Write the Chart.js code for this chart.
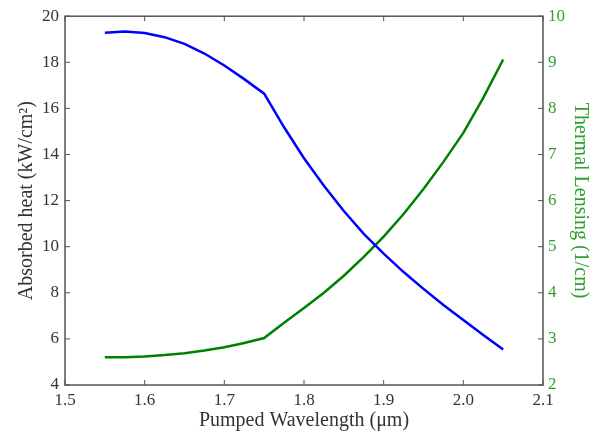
<!DOCTYPE html>
<html>
<head>
<meta charset="utf-8">
<script src="https://cdn.jsdelivr.net/npm/chart.js@4"></script>
<style>
  html, body { margin: 0; padding: 0; background: #fff; }
  #wrap { width: 597px; height: 436px; }
</style>
</head>
<body>
<div id="wrap"><canvas id="chart"></canvas></div>
<script>
// values
const wavelength = [1.55, 1.575, 1.6, 1.625, 1.65, 1.675, 1.7, 1.725, 1.75, 1.775, 1.8,
  1.825, 1.85, 1.875, 1.9, 1.925, 1.95, 1.975, 2.0, 2.025, 2.05];
const absorbedHeat = [19.28, 19.34, 19.27, 19.09, 18.8, 18.38, 17.86, 17.27, 16.64, 15.18, 13.84,
  12.64, 11.55, 10.56, 9.7, 8.9, 8.17, 7.47, 6.82, 6.17, 5.54];
const thermalLensing = [2.6, 2.6, 2.62, 2.65, 2.69, 2.75, 2.82, 2.91, 3.02, 3.35, 3.67,
  4.0, 4.37, 4.78, 5.22, 5.71, 6.25, 6.84, 7.47, 8.23, 9.06];

const xTicks = [1.5, 1.6, 1.7, 1.8, 1.9, 2.0, 2.1];
const leftTicks = [4, 6, 8, 10, 12, 14, 16, 18, 20];
const rightTicks = [2, 3, 4, 5, 6, 7, 8, 9, 10];

const serif = "'Liberation Serif', 'DejaVu Serif', serif";
const axisColor = "#555";
const labelGreen = "#2f9f2f";

// matplotlib style frame with ticks pointing inwards
const frame = {
  id: "frame",
  afterDraw(chart) {
    const { ctx, chartArea: a, scales } = chart;
    const len = 5;
    ctx.save();
    ctx.strokeStyle = axisColor;
    ctx.lineWidth = 1;
    ctx.beginPath();
    xTicks.forEach((t) => {
      const px = scales.x.getPixelForValue(t);
      ctx.moveTo(px, a.bottom); ctx.lineTo(px, a.bottom - len);
      ctx.moveTo(px, a.top); ctx.lineTo(px, a.top + len);
    });
    leftTicks.forEach((t) => {
      const py = scales.y.getPixelForValue(t);
      ctx.moveTo(a.left, py); ctx.lineTo(a.left + len, py);
    });
    rightTicks.forEach((t) => {
      const py = scales.y2.getPixelForValue(t);
      ctx.moveTo(a.right, py); ctx.lineTo(a.right - len, py);
    });
    ctx.stroke();
    ctx.lineWidth = 1.5;
    ctx.strokeRect(a.left, a.top, a.right - a.left, a.bottom - a.top);
    ctx.restore();
  },
};

new Chart(document.getElementById("chart"), {
  type: "line",
  data: {
    datasets: [
      {
        label: "Absorbed heat",
        data: wavelength.map((w, i) => ({ x: w, y: absorbedHeat[i] })),
        borderColor: "#0000ff",
        borderWidth: 2.5,
        pointRadius: 0,
        tension: 0,
        yAxisID: "y",
      },
      {
        label: "Thermal Lensing",
        data: wavelength.map((w, i) => ({ x: w, y: thermalLensing[i] })),
        borderColor: "#008000",
        borderWidth: 2.5,
        pointRadius: 0,
        tension: 0,
        yAxisID: "y2",
      },
    ],
  },
  options: {
    responsive: true,
    maintainAspectRatio: false,
    animation: false,
    layout: { padding: { top: 15, left: 0, right: 0, bottom: 0 } },
    plugins: { legend: { display: false }, tooltip: { enabled: false } },
    scales: {
      x: {
        type: "linear",
        min: 1.5,
        max: 2.1,
        afterBuildTicks: (s) => { s.ticks = xTicks.map((v) => ({ value: v })); },
        afterFit: (s) => { s.height = 51; },
        grid: { display: false, drawTicks: false },
        border: { display: false },
        ticks: {
          padding: 5,
          color: "#333",
          font: { family: serif, size: 17 },
          callback: (v) => v.toFixed(1),
        },
        title: {
          display: true,
          text: "Pumped Wavelength (μm)",
          color: "#333",
          font: { family: serif, size: 20 },
          padding: { top: 0, bottom: 3 },
        },
      },
      y: {
        position: "left",
        min: 4,
        max: 20,
        afterBuildTicks: (s) => { s.ticks = leftTicks.map((v) => ({ value: v })); },
        afterFit: (s) => { s.width = 65; },
        grid: { display: false, drawTicks: false },
        border: { display: false },
        ticks: { padding: 6, color: "#333", font: { family: serif, size: 17 } },
        title: {
          display: true,
          text: "Absorbed heat (kW/cm²)",
          color: "#333",
          font: { family: serif, size: 20 },
          padding: { top: 15, bottom: 0 },
        },
      },
      y2: {
        position: "right",
        min: 2,
        max: 10,
        afterBuildTicks: (s) => { s.ticks = rightTicks.map((v) => ({ value: v })); },
        afterFit: (s) => { s.width = 54; },
        grid: { display: false, drawTicks: false },
        border: { display: false },
        ticks: { padding: 5, color: labelGreen, font: { family: serif, size: 17 } },
        title: {
          display: true,
          text: "Thermal Lensing (1/cm)",
          color: labelGreen,
          font: { family: serif, size: 20 },
          padding: { top: 5, bottom: 0 },
        },
      },
    },
  },
  plugins: [frame],
});
</script>
</body>
</html>
